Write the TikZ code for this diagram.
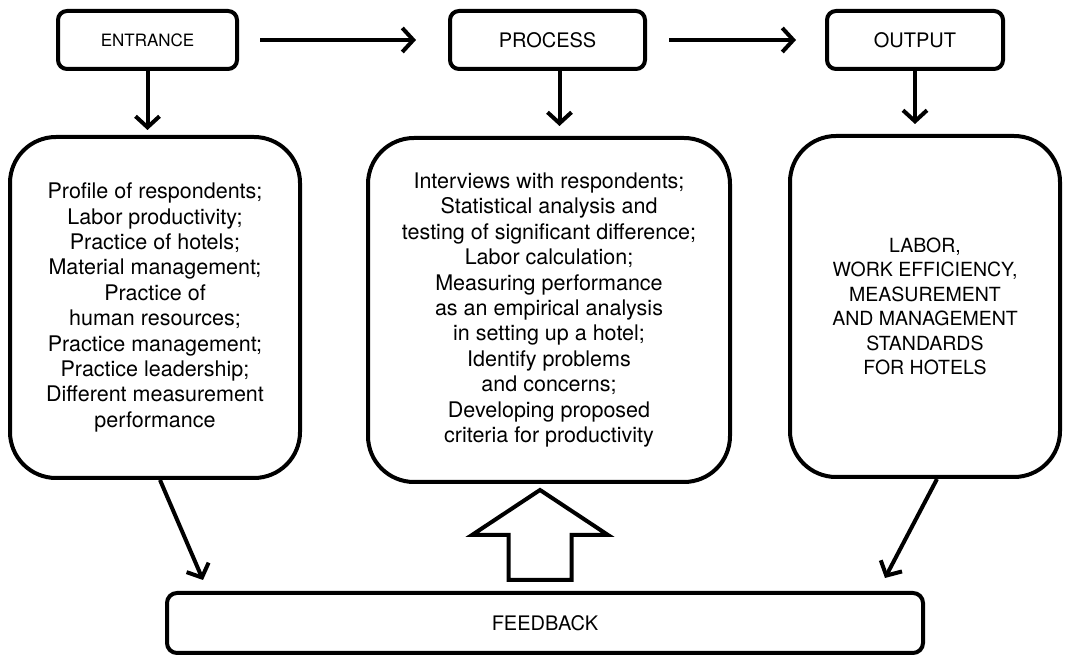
\documentclass[tikz,border=0pt]{standalone}
\usepackage{fontspec}
\setmainfont{TeX Gyre Heros}
\usepackage{tikz}
\usetikzlibrary{arrows.meta}
\tikzstyle{stage} = [rectangle, rounded corners=9pt, minimum height=58pt, text centered, draw=black, line width=4pt, inner sep=0pt, align=center, font=\fontsize{20}{24}\selectfont]
\tikzstyle{content} = [rectangle, rounded corners=46pt, text centered, draw=black, line width=4pt, inner sep=0pt, align=center, font=\fontsize{21.5}{25.4}\selectfont]
\tikzstyle{arrow} = [line width=4pt,->,>={Straight Barb[length=11pt,width=24pt]}]
\tikzstyle{hollow} = [line width=4pt, line join=miter]
\begin{document}
\begin{tikzpicture}[node distance=270pt]
        \useasboundingbox (0,0) rectangle (1068pt,658pt);
        \node (entrance) [stage, minimum width=179pt, font=\fontsize{17}{20}\selectfont] at (147.5pt,618pt) {ENTRANCE};
        \node (process) [stage, minimum width=195pt, right of=entrance, xshift=130pt] {PROCESS};
        \node (output) [stage, minimum width=176pt, right of=process, xshift=97.5pt] {OUTPUT};
        \node (inbox) [content, minimum width=290pt, minimum height=341pt, below of=entrance, xshift=7.5pt, yshift=2.5pt] {Profile of respondents;\\Labor productivity;\\Practice of hotels;\\Material management;\\Practice of\\human resources;\\Practice management;\\Practice leadership;\\Different measurement\\performance};
        \node (procbox) [content, minimum width=362pt, minimum height=344pt, below of=process, xshift=1.5pt] {Interviews with respondents;\\Statistical analysis and\\testing of significant difference;\\Labor calculation;\\Measuring performance\\as an empirical analysis\\in setting up a hotel;\\Identify problems\\and concerns;\\Developing proposed\\criteria for productivity};
        \node (outbox) [content, minimum width=270pt, minimum height=341pt, below of=output, xshift=10pt, yshift=3.5pt, font=\fontsize{19.5}{24.5}\selectfont] {LABOR,\\WORK EFFICIENCY,\\MEASUREMENT\\AND MANAGEMENT\\STANDARDS\\FOR HOTELS};
        \node (feedback) [stage, rounded corners=10pt, minimum width=756pt, minimum height=60pt, below of=procbox, xshift=-4pt, yshift=-43pt] {FEEDBACK};
        \coordinate (pdown) at ([xshift=12pt]process.south);
        \draw [arrow, shorten <=21pt, shorten >=32pt] (entrance) -- (process);
        \draw [arrow, shorten <=22pt, shorten >=29pt] (process) -- (output);
        \draw [arrow, shorten >=5pt] (entrance.south) -- (entrance.south |- inbox.north);
        \draw [arrow, shorten >=10pt] (pdown) -- (pdown |- procbox.north);
        \draw [arrow, shorten >=10pt] (output.south) -- (output.south |- outbox.north);
        \draw [arrow] ([xshift=5pt]inbox.south) -- ([xshift=38pt,yshift=11pt]feedback.north west);
        \draw [arrow] ([xshift=12pt]outbox.south) -- ([xshift=-40pt,yshift=13pt]feedback.north east);
        \draw [hollow] ([shift={(-36.5pt,11pt)}]feedback.north) -- ++(0,45pt) -- ++(-36.5pt,0) -- ++(68pt,45pt) -- ++(68pt,-45pt) -- ++(-36.5pt,0) -- ++(0,-45pt) -- cycle;
\end{tikzpicture}
\end{document}
